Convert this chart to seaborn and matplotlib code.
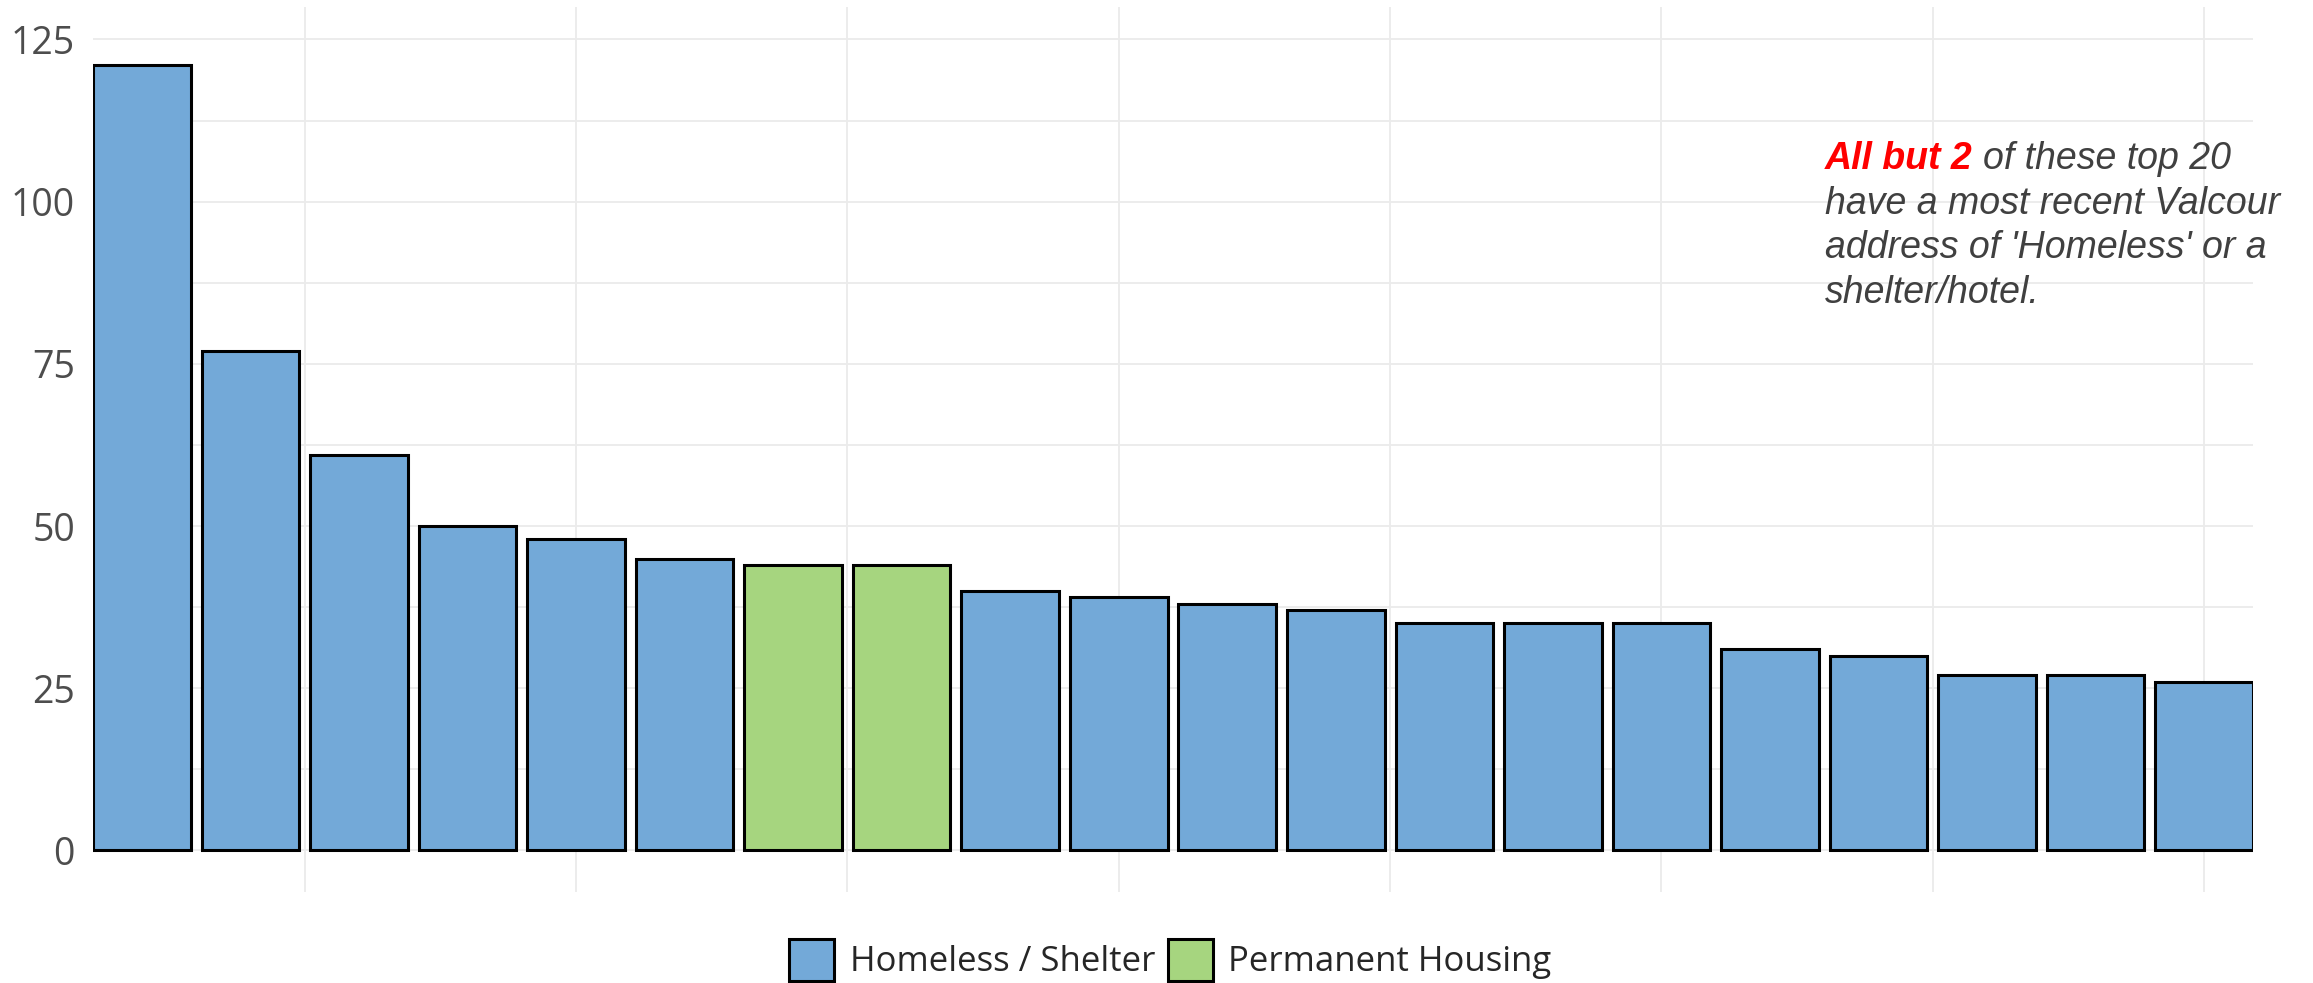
import numpy as np
import pandas as pd
import matplotlib
matplotlib.use("Agg")
import matplotlib.pyplot as plt
import seaborn as sns

# data
ranks = list(range(1, 21))
counts = [121, 77, 61, 50, 48, 45, 44, 44, 40, 39, 38, 37, 35, 35, 35, 31, 30, 27, 27, 26]
groups = ["Homeless / Shelter"] * 6 + ["Permanent Housing"] * 2 + ["Homeless / Shelter"] * 12
group_order = ["Homeless / Shelter", "Permanent Housing"]
group_colors = ["#73A9D8", "#A6D57F"]
y_ticks = [0, 25, 50, 75, 100, 125]

df = pd.DataFrame({"rank": ranks, "count": counts, "group": groups})

sns.set_theme(style="white")
plt.rcParams["font.family"] = ["Open Sans", "DejaVu Sans"]

fig = plt.figure(figsize=(23.13, 9.83), dpi=100)
ax = fig.add_axes([93 / 2313, 1 - 892 / 983, (2253 - 93) / 2313, (892 - 7) / 983])

sns.barplot(data=df, x="rank", y="count", hue="group", hue_order=group_order,
            palette=group_colors, native_scale=True, dodge=False, width=0.9,
            edgecolor="black", linewidth=2.2, saturation=1, ax=ax, zorder=3)

# grid: vertical lines every 2.5 ranks, horizontal every 12.5
ax.set_xlim(0.55, 20.45)
ax.set_ylim(-6.4, 130)
ax.set_xticks(np.arange(2.5, 20.5, 2.5))
ax.set_xticklabels([])
ax.set_yticks(y_ticks)
ax.set_yticks(np.arange(12.5, 130, 25), minor=True)
ax.grid(True, which="both", color="#EBEBEB", linewidth=1.3, zorder=0)
ax.set_axisbelow(True)
ax.tick_params(axis="both", which="both", length=0)
ax.tick_params(axis="y", labelsize=27, labelcolor="#4D4D4D", pad=13)
ax.set_xlabel("")
ax.set_ylabel("")
for s in ax.spines.values():
    s.set_visible(False)

# legend at bottom
handles, labels = ax.get_legend_handles_labels()
ax.get_legend().remove()
fig.legend(handles, labels, loc="center", bbox_to_anchor=(0.506, 1 - 960 / 983),
           ncol=2, frameon=False, handlelength=1.3, handleheight=1.5,
           handletextpad=0.45, columnspacing=0.35,
           prop={"family": ["Open Sans", "DejaVu Sans"], "size": 25})

# annotation: red bold part followed by grey italic text
x0, y0 = 1825 / 2313, 1 - 169 / 983
txt_font = ["Liberation Sans", "DejaVu Sans"]
t1 = fig.text(x0, y0, "All but 2", color="red", fontsize=27, fontweight="bold",
              fontstyle="italic", family=txt_font, va="baseline")
fig.canvas.draw()
bb = t1.get_window_extent()
x1 = (bb.x1 + 10) / fig.bbox.width
fig.text(x1, y0, "of these top 20", color="#404040", fontsize=27, fontstyle="italic",
         family=txt_font, va="baseline")
rest = ["have a most recent Valcour", "address of 'Homeless' or a", "shelter/hotel."]
for i, line in enumerate(rest):
    fig.text(x0, y0 - (i + 1) * 44.5 / 983, line, color="#404040", fontsize=27,
             fontstyle="italic", family=txt_font, va="baseline")

fig.savefig("out.png", dpi=100)
